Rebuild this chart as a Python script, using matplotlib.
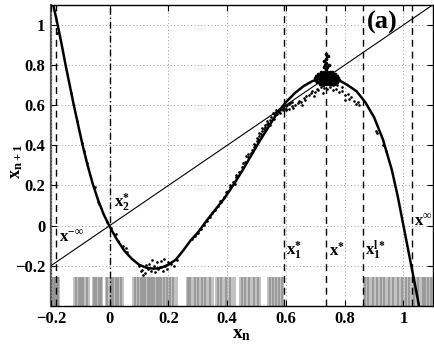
import matplotlib
matplotlib.use("Agg")
import matplotlib.pyplot as plt

plt.rcParams['font.family'] = ['Liberation Serif', 'DejaVu Serif']
plt.rcParams['font.weight'] = 'bold'
plt.rcParams['mathtext.fontset'] = 'custom'
plt.rcParams['mathtext.rm'] = 'Liberation Serif:bold'
plt.rcParams['mathtext.it'] = 'Liberation Serif:bold'
plt.rcParams['mathtext.bf'] = 'Liberation Serif:bold'

# map curve
curve_x = [-0.192, -0.177, -0.163, -0.150, -0.136, -0.122, -0.107, -0.092, -0.075, -0.058,
           -0.040, -0.020, 0.000, 0.025, 0.050, 0.075, 0.100, 0.125, 0.150, 0.175,
           0.200, 0.225, 0.250, 0.275, 0.300, 0.333, 0.360, 0.390, 0.420, 0.450,
           0.480, 0.510, 0.540, 0.570, 0.600, 0.630, 0.660, 0.690, 0.720, 0.750,
           0.780, 0.810, 0.840, 0.870, 0.900, 0.930, 0.960, 0.980, 1.000, 1.020,
           1.040, 1.053]
curve_y = [1.10, 1.00, 0.90, 0.80, 0.70, 0.60, 0.50, 0.40, 0.30, 0.21,
           0.13, 0.055, -0.005, -0.07, -0.125, -0.165, -0.195, -0.21, -0.215, -0.21,
           -0.195, -0.17, -0.125, -0.075, -0.035, 0.03, 0.08, 0.135, 0.20, 0.27,
           0.345, 0.42, 0.49, 0.56, 0.615, 0.66, 0.695, 0.72, 0.733, 0.735,
           0.725, 0.70, 0.67, 0.615, 0.54, 0.43, 0.28, 0.15, 0.0, -0.15,
           -0.30, -0.40]

# identity line end points
diag = [-0.2, 1.1]

# noisy orbit points
pts = [
    # left branch
    (-0.178, 0.96), (-0.13, 0.66), (-0.11, 0.52), (-0.093, 0.41), (-0.086, 0.37),
    (-0.076, 0.31), (-0.05, 0.19), (-0.04, 0.12), (-0.035, 0.11),
    # near origin
    (0.02, -0.04), (0.03, -0.075), (0.045, -0.1), (0.055, -0.11), (0.06, -0.13),
    (-0.01, 0.02), (0.005, -0.01),
    # around the minimum
    (0.10, -0.2), (0.11, -0.22), (0.12, -0.235), (0.125, -0.195), (0.13, -0.215),
    (0.14, -0.225), (0.145, -0.17), (0.15, -0.2), (0.155, -0.23), (0.16, -0.18),
    (0.165, -0.215), (0.17, -0.205), (0.175, -0.175), (0.18, -0.225), (0.19, -0.2),
    (0.195, -0.215), (0.2, -0.18), (0.21, -0.19), (0.22, -0.2), (0.23, -0.17),
    (0.115, -0.245), (0.135, -0.19), (0.185, -0.165), (0.105, -0.225),
    # rising branch
    (0.28, -0.065), (0.29, -0.05), (0.30, -0.035), (0.31, -0.015), (0.32, 0.005),
    (0.33, 0.025), (0.34, 0.045), (0.35, 0.065), (0.36, 0.08), (0.37, 0.10),
    (0.38, 0.12), (0.39, 0.14), (0.40, 0.165), (0.41, 0.19), (0.42, 0.215),
    (0.43, 0.24), (0.44, 0.265), (0.45, 0.29), (0.46, 0.315), (0.47, 0.34),
    (0.48, 0.36), (0.485, 0.375), (0.49, 0.39), (0.495, 0.40), (0.50, 0.42),
    (0.505, 0.43), (0.51, 0.445), (0.515, 0.455), (0.52, 0.47), (0.525, 0.48),
    (0.53, 0.49), (0.535, 0.505), (0.54, 0.51), (0.545, 0.525), (0.55, 0.54),
    (0.56, 0.555), (0.565, 0.56), (0.57, 0.57), (0.575, 0.565), (0.58, 0.575),
    (0.585, 0.58), (0.59, 0.59), (0.595, 0.585), (0.60, 0.595), (0.605, 0.60),
    (0.61, 0.605), (0.615, 0.61), (0.62, 0.615),
    (0.555, 0.56), (0.565, 0.575), (0.575, 0.58), (0.585, 0.595), (0.57, 0.555),
    (0.58, 0.56), (0.59, 0.575), (0.6, 0.58), (0.52, 0.485), (0.53, 0.50),
    (0.51, 0.46), (0.50, 0.435), (0.49, 0.405), (0.47, 0.355), (0.455, 0.31),
    (0.43, 0.25), (0.41, 0.2), (0.465, 0.345), (0.445, 0.265), (0.395, 0.165),
    (0.535, 0.52), (0.545, 0.50), (0.56, 0.53), (0.425, 0.205), (0.375, 0.125),
    # scatter under the hump
    (0.60, 0.575), (0.61, 0.58), (0.62, 0.595), (0.625, 0.585), (0.63, 0.60),
    (0.64, 0.61), (0.645, 0.62), (0.65, 0.615), (0.66, 0.635), (0.665, 0.625),
    (0.67, 0.645), (0.68, 0.65), (0.685, 0.66), (0.69, 0.67), (0.70, 0.665),
    (0.705, 0.68), (0.71, 0.675), (0.72, 0.69), (0.73, 0.685), (0.74, 0.68),
    (0.75, 0.69), (0.76, 0.675), (0.77, 0.68), (0.78, 0.665), (0.79, 0.67),
    (0.80, 0.65), (0.81, 0.655), (0.815, 0.63), (0.82, 0.64), (0.83, 0.62),
    (0.84, 0.605), (0.845, 0.615), (0.85, 0.60), (0.775, 0.70), (0.76, 0.70),
    (0.79, 0.69), (0.655, 0.60), (0.695, 0.645), (0.725, 0.66), (0.80, 0.625),
    # falling branch
    (0.905, 0.47), (0.91, 0.46), (0.93, 0.40), (0.94, 0.37),
]

# dense cloud at the fixed point x*
blob = [
    (0.715, 0.706), (0.725, 0.703), (0.735, 0.707), (0.745, 0.704), (0.755, 0.706), (0.765, 0.708),
    (0.705, 0.716), (0.712, 0.714), (0.72, 0.717), (0.728, 0.713), (0.736, 0.716), (0.744, 0.714),
    (0.752, 0.717), (0.76, 0.715), (0.768, 0.713), (0.775, 0.716),
    (0.70, 0.726), (0.708, 0.724), (0.716, 0.727), (0.724, 0.725), (0.732, 0.723), (0.74, 0.726),
    (0.748, 0.724), (0.756, 0.727), (0.764, 0.725), (0.772, 0.723), (0.78, 0.726),
    (0.698, 0.735), (0.706, 0.737), (0.714, 0.734), (0.722, 0.736), (0.73, 0.735), (0.738, 0.737),
    (0.746, 0.734), (0.754, 0.736), (0.762, 0.735), (0.77, 0.737), (0.778, 0.734),
    (0.704, 0.745), (0.712, 0.746), (0.72, 0.744), (0.728, 0.747), (0.736, 0.745), (0.744, 0.746),
    (0.752, 0.744), (0.76, 0.747), (0.768, 0.745), (0.775, 0.743),
    (0.71, 0.755), (0.718, 0.754), (0.726, 0.756), (0.734, 0.755), (0.742, 0.757), (0.75, 0.754),
    (0.758, 0.756), (0.766, 0.753),
    (0.72, 0.764), (0.73, 0.766), (0.74, 0.765), (0.75, 0.763), (0.758, 0.765),
    (0.735, 0.78), (0.74, 0.79), (0.732, 0.80), (0.738, 0.81), (0.735, 0.83),
    (0.742, 0.845), (0.73, 0.82), (0.745, 0.80), (0.728, 0.79), (0.737, 0.855),
]

# special points (dashed verticals)
x_minf = -0.183
x2_star = 0.0
x1_star = 0.592
x_star = 0.737
x1p_star = 0.861
x_inf = 1.028

# rug of visited x_n: light bands and darker streaks
rug_bands = [(-0.2, -0.168), (-0.124, -0.066), (-0.06, -0.022), (-0.015, 0.049),
             (0.077, 0.232), (0.259, 0.355), (0.36, 0.43), (0.44, 0.515),
             (0.537, 0.594), (0.862, 1.1)]
rug_streaks = [-0.195, -0.19, -0.185, -0.18, -0.176,
               -0.115, -0.105, -0.098, -0.09, -0.078, -0.052, -0.045, -0.035, -0.03,
               -0.008, 0.003, 0.012, 0.02, 0.03, 0.04,
               0.085, 0.095, 0.105, 0.112, 0.12, 0.13, 0.138, 0.145, 0.152, 0.16,
               0.168, 0.175, 0.185, 0.195, 0.205, 0.215,
               0.265, 0.275, 0.29, 0.3, 0.315, 0.325, 0.34, 0.37, 0.38, 0.395, 0.41,
               0.45, 0.46, 0.475, 0.49, 0.505, 0.545, 0.555, 0.565, 0.575, 0.585,
               0.87, 0.88, 0.895, 0.91, 0.925, 0.935, 0.95, 0.965, 0.98, 0.995,
               1.01, 1.02, 1.035, 1.05, 1.065, 1.075, 1.085, 1.095]
rug_lo, rug_hi = -0.4, -0.255

xticks = [-0.2, 0, 0.2, 0.4, 0.6, 0.8, 1]
xticklabels = ['\u22120.2', '0', '0.2', '0.4', '0.6', '0.8', '1']
yticks = [-0.2, 0, 0.2, 0.4, 0.6, 0.8, 1]
yticklabels = ['\u22120.2', '0', '0.2', '0.4', '0.6', '0.8', '1']

fig = plt.figure(figsize=(4.35, 3.46), dpi=100)
ax = fig.add_axes([0.117, 0.116, 0.878, 0.870])

# rug
for a, b in rug_bands:
    ax.fill_between([a, b], rug_lo, rug_hi, color='#c2c2c2', lw=0, zorder=1)
ax.vlines(rug_streaks, rug_lo, rug_hi, colors='#8e8e8e', lw=1.1, zorder=1.2)

# dashed verticals
for xv in [x_minf, x1_star, x_star, x1p_star, x_inf]:
    ax.axvline(xv, color='k', lw=1.0, linestyle=(0, (5, 3.5)), zorder=3)
ax.axvline(x2_star, color='k', lw=1.0, linestyle=(0, (5, 2, 1, 2)), zorder=3)

ax.plot(diag, diag, color='k', lw=0.8, zorder=3)
ax.plot(curve_x, curve_y, color='k', lw=1.8, zorder=4)

ax.plot([p[0] for p in pts], [p[1] for p in pts], 'k.', ms=1.8, zorder=5)
ax.plot([p[0] for p in blob], [p[1] for p in blob], 'k.', ms=3.2, zorder=5)

ax.set_xlim(-0.2, 1.1)
ax.set_ylim(-0.4, 1.1)
ax.set_xticks(xticks)
ax.set_xticklabels(xticklabels, fontsize=12, fontweight='bold')
ax.set_yticks(yticks)
ax.set_yticklabels(yticklabels, fontsize=12, fontweight='bold')
ax.tick_params(direction='in', length=4, width=0.8, top=True, right=True, pad=4)
ax.grid(True, linestyle=(0, (1, 2.5)), color='#999999', lw=0.7)
ax.set_axisbelow(False)
for s in ax.spines.values():
    s.set_linewidth(1.0)
ax.spines['left'].set_color('#555555')
ax.spines['left'].set_linewidth(1.6)

ax.set_xlabel(r'$\mathbf{x}_{\mathbf{n}}$', fontsize=14, labelpad=-1)
ax.set_ylabel(r'$\mathbf{x}_{\mathbf{n+1}}$', fontsize=13)
ax.yaxis.set_label_coords(-0.068, 0.48)

ax.text(-0.172, -0.08, r'$\mathbf{x}^{-\infty}$', fontsize=12, zorder=6)
ax.text(0.015, 0.09, r'$\mathbf{x}_{\mathbf{2}}^{*}$', fontsize=12, zorder=6)
ax.text(0.60, -0.15, r'$\mathbf{x}_{\mathbf{1}}^{*}$', fontsize=12, zorder=6)
ax.text(0.745, -0.15, r'$\mathbf{x}^{*}$', fontsize=12, zorder=6)
ax.text(0.868, -0.15, r'$\mathbf{x}_{\mathbf{1}}^{\mathbf{l*}}$', fontsize=12, zorder=6)
ax.text(1.035, 0.0, r'$\mathbf{x}^{\infty}$', fontsize=12, zorder=6)
ax.text(0.927, 1.012, '(a)', fontsize=19, fontweight='bold', ha='center', va='center', zorder=6)

fig.savefig('out.png', dpi=100)
